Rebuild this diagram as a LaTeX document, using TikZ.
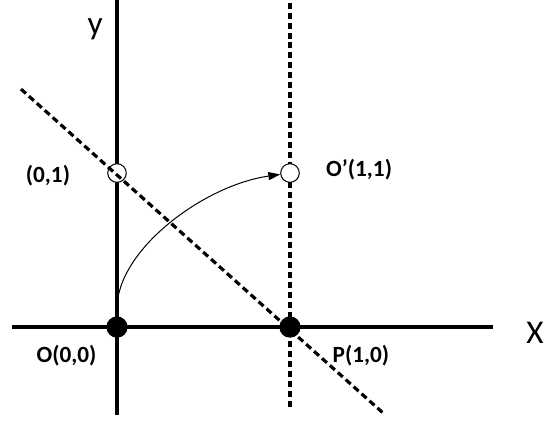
\documentclass[tikz,border=0pt]{standalone}
\usepackage{fontspec}
\setmainfont{Carlito}
\usetikzlibrary{arrows.meta,positioning}
\tikzset{
  every picture/.style={line width=2.5pt, line join=round,
    >={Triangle[length=9pt,width=6pt]}},
  % Linien
  axis/.style={line width=2.5pt},
  dashline/.style={line width=2.4pt, dash pattern=on 5pt off 3pt},
  dotline/.style={line width=2.5pt, dash pattern=on 4.5pt off 3pt},
  turn/.style={line width=0.75pt, ->},
  % Punkte
  full/.style={circle, fill=black, inner sep=0pt, minimum size=16pt},
  open/.style={circle, draw, fill=white, line width=0.75pt, inner sep=0pt, minimum size=14pt},
  % Beschriftung
  lbl/.style={font=\fontsize{17.5}{20}\selectfont\bfseries, inner sep=0pt},
  axlbl/.style={font=\fontsize{25}{28}\selectfont, inner sep=0pt},
}
\begin{document}
\begin{tikzpicture}[x=4.577cm, y=4.075cm]
  \useasboundingbox (-0.6763,-0.6104) rectangle (2.4798,2.1234);
  % Achsen
  \coordinate (xl) at (-0.607,0);
  \coordinate (xr) at (2.173,0);
  \coordinate (yb) at (0,-0.571);
  \coordinate (yt) at (0,2.123);
  \draw[axis] (xl) -- (xr);
  \draw[axis] (yb) -- (yt);
  % Gerade x = 1
  \coordinate (vt) at (1,2.123);
  \coordinate (vb) at (1,-0.52);
  \draw[dotline] (vb) -- (vt);
  % Punkte
  \node[open] (A) at (0,1) {};
  \node[open] (Os) at (1,1) {};
  % Gerade x + y = 1
  \coordinate (dl) at (-0.555,1.545);
  \coordinate (dr) at (1.55,-0.57);
  \draw[dashline] (dl) -- (dr);
  \node[full] (O) at (0,0) {};
  \node[full] (P) at (1,0) {};
  % Drehung
  \coordinate (s) at (0,0.12);
  \draw[turn] (s) .. controls (0,0.5) and (0.5,0.92) .. (Os);
  % Beschriftung
  \node[axlbl] at (-0.127,1.935) {y};
  \node[axlbl] at (2.416,-0.036) {X};
  \node[lbl] at (-0.399,0.984) {(0,1)};
  \node[lbl] at (1.399,1.019) {O’(1,1)};
  \node[lbl] at (-0.292,-0.188) {O(0,0)};
  \node[lbl] at (1.41,-0.188) {P(1,0)};
\end{tikzpicture}
\end{document}
